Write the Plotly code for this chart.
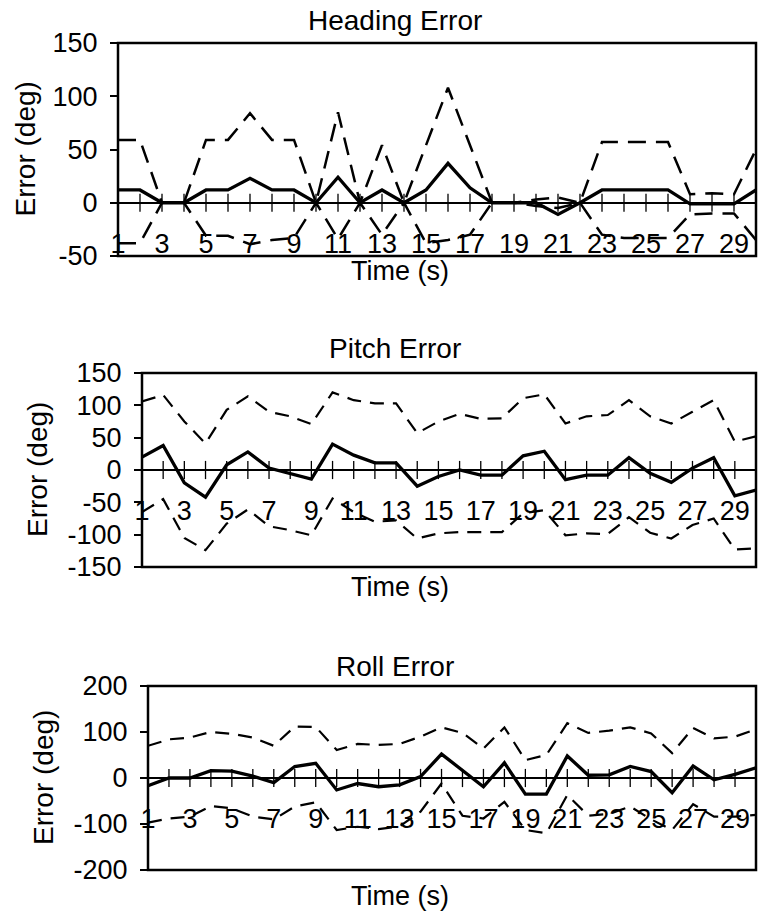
import plotly.graph_objects as go

# ---------------- data ----------------
time_s = list(range(1, 31))
tick_vals = list(range(1, 30, 2))
tick_text = [str(v) for v in tick_vals]

heading_yticks = [-50, 0, 50, 100, 150]
pitch_yticks = [-150, -100, -50, 0, 50, 100, 150]
roll_yticks = [-200, -100, 0, 100, 200]

heading_mean = [12, 12, 0, 0, 12, 12, 23, 12, 12, 0, 24, 0, 12, 0, 12, 37, 14, 0, 0, 0,
                -11, 0, 12, 12, 12, 12, -1, -1, -1, 12]
heading_upper = [59, 59, 0, 0, 59, 59, 84, 59, 59, 0, 85, 0, 54, 0, 54, 108, 54, 0, 0, 3,
                 5, 0, 57, 57, 57, 57, 8, 9, 8, 50]
heading_lower = [-38, -38, 0, 0, -31, -31, -39, -35, -33, 0, -34, 0, -30, 0, -38, -35, -30, 0, 0, -3,
                 -5, 0, -30, -33, -33, -33, -11, -10, -10, -35]

pitch_mean = [20, 38, -20, -42, 8, 28, 3, -5, -14, 40, 23, 11, 11, -25, -10, 0, -8, -8, 22, 29,
              -15, -8, -8, 19, -5, -19, 3, 19, -40, -31]
pitch_upper = [106, 116, 75, 41, 93, 114, 90, 83, 71, 120, 108, 103, 103, 57, 75, 87, 79, 80, 111, 117,
               72, 83, 85, 108, 83, 72, 90, 108, 44, 52]
pitch_lower = [-65, -45, -105, -124, -83, -61, -87, -93, -101, -44, -65, -80, -78, -106, -98, -96, -96, -96, -67, -62,
               -101, -98, -99, -73, -97, -106, -85, -75, -123, -121]

roll_mean = [-17, 0, 0, 16, 15, 4, -10, 25, 32, -26, -12, -19, -15, 3, 52, 17, -19, 33, -35, -35,
             48, 6, 7, 25, 14, -32, 26, -4, 8, 22]
roll_upper = [70, 84, 88, 100, 96, 88, 70, 112, 111, 61, 74, 72, 74, 90, 110, 98, 64, 110, 39, 50,
              119, 98, 103, 110, 97, 54, 109, 86, 90, 106]
roll_lower = [-97, -88, -84, -61, -66, -84, -90, -62, -53, -113, -106, -111, -105, -73, -12, -82, -88, -52, -113, -120,
              -37, -82, -78, -62, -90, -113, -57, -84, -84, -80]

titles = ["Heading Error", "Pitch Error", "Roll Error"]
x_title = "Time (s)"
y_title = "Error (deg)"

# ---------------- layout geometry ----------------
W, H = 758, 914
FONT = "Liberation Sans, Arial, sans-serif"

panels = [
    dict(mean=heading_mean, upper=heading_upper, lower=heading_lower, yrange=[-50, 150], yticks=heading_yticks,
         px_x=(118, 756), px_y=(43, 256), title_y=21, xt_y=271, yt_x=25, dash="18px,10px", lw=2.5),
    dict(mean=pitch_mean, upper=pitch_upper, lower=pitch_lower, yrange=[-150, 150], yticks=pitch_yticks,
         px_x=(142, 756), px_y=(373, 567), title_y=348, xt_y=587, yt_x=37, dash="14px,9px", lw=2.2),
    dict(mean=roll_mean, upper=roll_upper, lower=roll_lower, yrange=[-200, 200], yticks=roll_yticks,
         px_x=(148, 756), px_y=(686, 870), title_y=666, xt_y=896, yt_x=43, dash="14px,9px", lw=2.2),
]

fig = go.Figure()
layout = dict(width=W, height=H, margin=dict(l=0, r=0, t=0, b=0, pad=0, autoexpand=False),
              paper_bgcolor="white", plot_bgcolor="white", showlegend=False,
              font=dict(family=FONT, color="black", size=27))
annotations = []
shapes = []

for i, p in enumerate(panels):
    n = "" if i == 0 else str(i + 1)
    xa, ya = "x" + n, "y" + n
    dx = [p["px_x"][0] / W, p["px_x"][1] / W]
    dy = [1 - p["px_y"][1] / H, 1 - p["px_y"][0] / H]
    y0, y1 = p["yrange"]
    zero_pos = dy[0] + (0 - y0) / (y1 - y0) * (dy[1] - dy[0])

    for series in (p["upper"], p["lower"]):
        fig.add_trace(go.Scatter(x=time_s, y=series, mode="lines", xaxis=xa, yaxis=ya,
                                 line=dict(color="black", width=p["lw"], dash=p["dash"]),
                                 hoverinfo="skip"))
    fig.add_trace(go.Scatter(x=time_s, y=p["mean"], mode="lines", xaxis=xa, yaxis=ya,
                             line=dict(color="black", width=3.3), hoverinfo="skip"))
    fig.add_trace(go.Scatter(x=time_s, y=[0] * len(time_s), mode="markers", xaxis=xa, yaxis=ya,
                             marker=dict(symbol="line-ns", size=13,
                                         line=dict(color="black", width=1.3)),
                             hoverinfo="skip"))

    layout["xaxis" + n] = dict(domain=dx, range=[1, 30], anchor="free", position=zero_pos,
                               automargin=False,
                               showgrid=False, zeroline=False, showline=True, linecolor="black",
                               linewidth=1.5, ticks="", tickvals=tick_vals, ticktext=tick_text,
                               ticklabelstandoff=17, tickfont=dict(size=27, family=FONT))
    layout["yaxis" + n] = dict(domain=dy, range=p["yrange"], anchor=xa, automargin=False,
                               tickvals=p["yticks"], ticktext=[str(v) for v in p["yticks"]],
                               showgrid=False, zeroline=False, showline=False,
                               ticks="outside", ticklen=7, tickwidth=1.5, tickcolor="black",
                               ticklabelstandoff=7, tickfont=dict(size=27, family=FONT))
    shapes.append(dict(type="rect", xref=xa + " domain", yref=ya + " domain",
                       x0=0, x1=1, y0=0, y1=1, line=dict(color="black", width=2.5), layer="above"))
    annotations.append(dict(text=titles[i], xref="paper", yref="paper", x=395 / W, y=1 - p["title_y"] / H,
                            xanchor="center", yanchor="middle", showarrow=False,
                            font=dict(size=28, family=FONT)))
    annotations.append(dict(text=x_title, xref="paper", yref="paper", x=400 / W, y=1 - p["xt_y"] / H,
                            xanchor="center", yanchor="middle", showarrow=False,
                            font=dict(size=27, family=FONT)))
    annotations.append(dict(text=y_title, xref="paper", yref="paper", x=p["yt_x"] / W,
                            y=(dy[0] + dy[1]) / 2, textangle=-90,
                            xanchor="center", yanchor="middle", showarrow=False,
                            font=dict(size=28, family=FONT)))

layout["annotations"] = annotations
layout["shapes"] = shapes
fig.update_layout(**layout)
fig.write_html("out.html")
